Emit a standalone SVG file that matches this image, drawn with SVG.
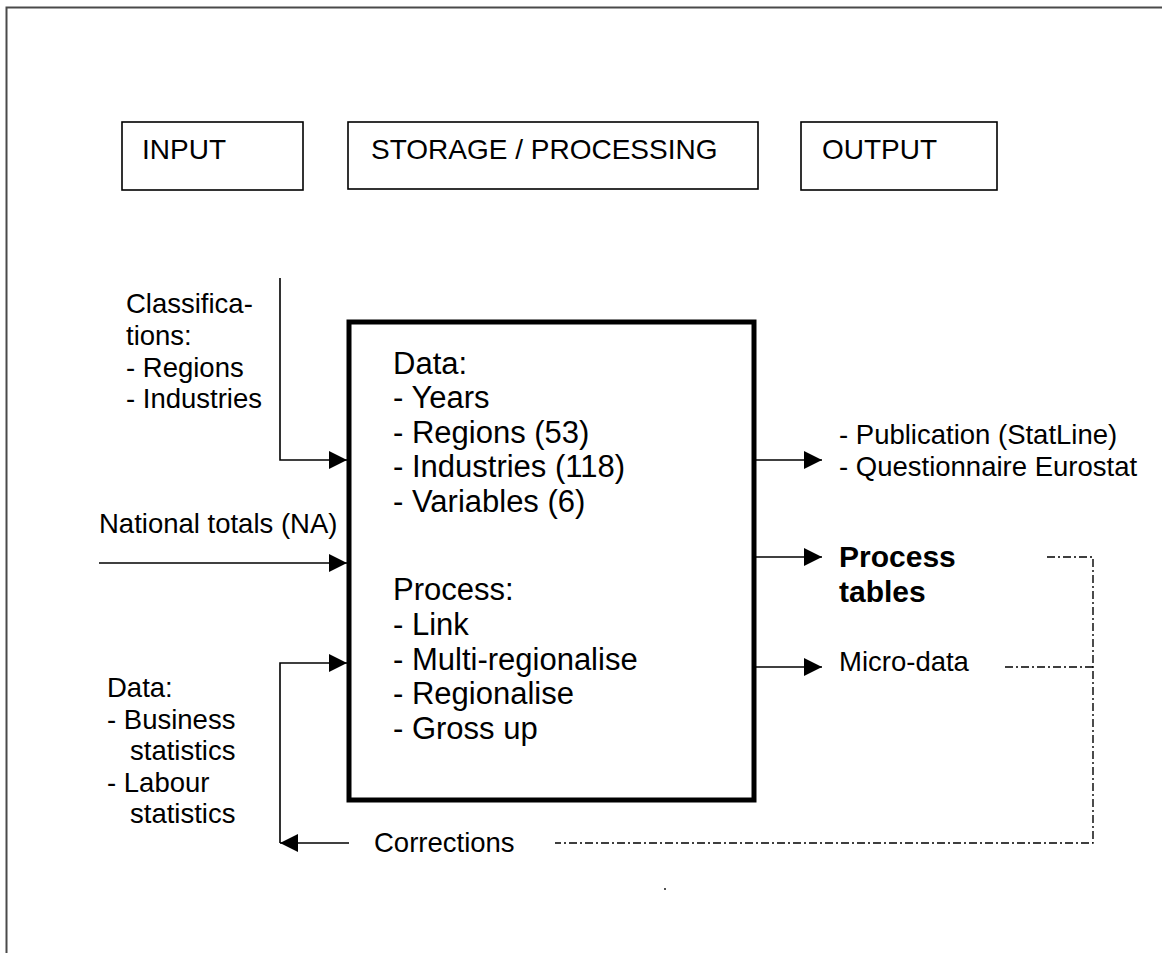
<svg xmlns="http://www.w3.org/2000/svg" width="1162" height="953" viewBox="0 0 1162 953">
<style>
text{font-family:"Liberation Sans",Arial,sans-serif;fill:#000}
.h{font-size:28px}
.s{font-size:27.5px}
.m{font-size:31px}
.b{font-size:30px;font-weight:bold}
.hb{fill:#fff;stroke:#000;stroke-width:1.6}
.ln{fill:none;stroke:#000;stroke-width:1.6}
.dd{fill:none;stroke:#000;stroke-width:1.4;stroke-dasharray:8 3 2 3}
</style>
<defs>
<marker id="ah" markerUnits="userSpaceOnUse" markerWidth="19" markerHeight="19" refX="18" refY="9" orient="auto">
<path d="M0,0 L18,9 L0,18 z" fill="#000"/>
</marker>
</defs>
<rect width="1162" height="953" fill="#fff"/>
<g id="frame">
<path d="M1162,7.5 H6.5 V953" fill="none" stroke="#4a4a4a" stroke-width="2"/>
</g>
<g id="input-header">
<rect class="hb" x="122" y="122" width="181" height="68"/>
<text class="h" x="142" y="159">INPUT</text>
</g>
<g id="storage-header">
<rect class="hb" x="348" y="122" width="410" height="67"/>
<text class="h" x="371" y="159">STORAGE / PROCESSING</text>
</g>
<g id="output-header">
<rect class="hb" x="801" y="122" width="196" height="68"/>
<text class="h" x="822" y="159">OUTPUT</text>
</g>
<g id="main-box">
<rect x="349" y="322" width="405" height="478" fill="#fff" stroke="#000" stroke-width="5"/>
<text class="m" x="393" y="374">Data:</text>
<text class="m" x="393" y="408">- Years</text>
<text class="m" x="393" y="443">- Regions (53)</text>
<text class="m" x="393" y="477">- Industries (118)</text>
<text class="m" x="393" y="512">- Variables (6)</text>
<text class="m" x="393" y="600">Process:</text>
<text class="m" x="393" y="635">- Link</text>
<text class="m" x="393" y="670">- Multi-regionalise</text>
<text class="m" x="393" y="704">- Regionalise</text>
<text class="m" x="393" y="739">- Gross up</text>
</g>
<g id="classifications">
<text class="s" x="126" y="313">Classifica-</text>
<text class="s" x="126" y="345">tions:</text>
<text class="s" x="126" y="377">- Regions</text>
<text class="s" x="126" y="408">- Industries</text>
</g>
<g id="national-totals">
<text class="s" x="99" y="533">National totals (NA)</text>
</g>
<g id="data-input">
<text class="s" x="107" y="697">Data:</text>
<text class="s" x="107" y="729">- Business</text>
<text class="s" x="130" y="760">statistics</text>
<text class="s" x="107" y="792">- Labour</text>
<text class="s" x="130" y="823">statistics</text>
</g>
<g id="publication">
<text class="s" x="839" y="444">- Publication (StatLine)</text>
<text class="s" x="839" y="476">- Questionnaire Eurostat</text>
</g>
<g id="process-tables">
<text class="b" x="839" y="567">Process</text>
<text class="b" x="839" y="602">tables</text>
</g>
<g id="micro-data">
<text class="s" x="839" y="671">Micro-data</text>
</g>
<g id="corrections">
<text class="s" x="374" y="852">Corrections</text>
</g>
<g id="connectors">
<path class="ln" d="M280,278 V460 H347" marker-end="url(#ah)"/>
<path class="ln" d="M99,563 H347" marker-end="url(#ah)"/>
<path class="ln" d="M280,843 V663 H347" marker-end="url(#ah)"/>
<path class="ln" d="M349,843 H280" marker-end="url(#ah)"/>
<path class="ln" d="M756,460 H822" marker-end="url(#ah)"/>
<path class="ln" d="M756,557 H822" marker-end="url(#ah)"/>
<path class="ln" d="M756,667 H822" marker-end="url(#ah)"/>
<path class="dd" d="M1047,557 H1093 V843 H555"/>
<path class="dd" d="M1005,667 H1093"/>
</g>
<circle cx="665" cy="889" r="0.9" fill="#000"/>
</svg>
